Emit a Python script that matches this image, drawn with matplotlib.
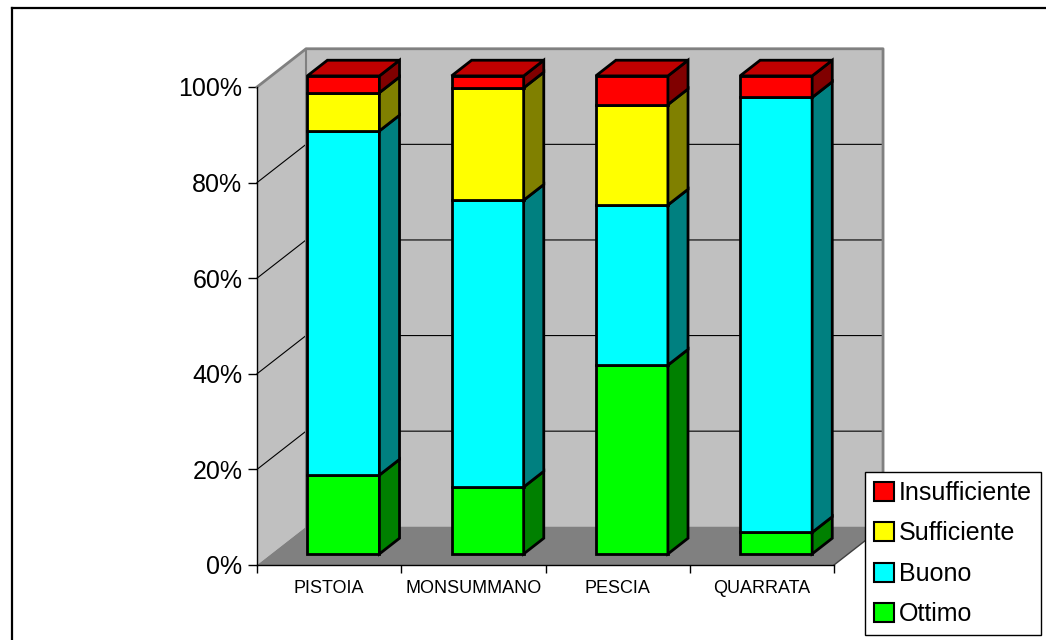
import numpy as np
import matplotlib
matplotlib.use("Agg")
from matplotlib import pyplot as plt
from matplotlib.patches import Polygon, Patch
from matplotlib.lines import Line2D

plt.rcParams['font.family'] = ['Liberation Sans', 'DejaVu Sans']

# dati (percentuali)
categorie = ['PISTOIA', 'MONSUMMANO', 'PESCIA', 'QUARRATA']
ottimo = [16.5, 14, 39.5, 4.5]
buono = [72, 60, 33.5, 91]
sufficiente = [8, 23.5, 21, 0]
insufficiente = [3.5, 2.5, 6, 4.5]

serie = ['Ottimo', 'Buono', 'Sufficiente', 'Insufficiente']
valori = [ottimo, buono, sufficiente, insufficiente]
col_fronte = ['#00ff00', '#00ffff', '#ffff00', '#ff0000']
col_lato = ['#008000', '#008080', '#808000', '#800000']
col_sopra = ['#00c000', '#00c0c0', '#c0c000', '#c00000']

W, H = 1046, 640
fig = plt.figure(figsize=(W / 100, H / 100), dpi=100)
ax = fig.add_axes([257 / W, (H - 565) / H, 577 / W, 478 / H])
ax.set_xlim(0, 4)
ax.set_ylim(0, 100)

# profondita' della scatola 3D (in unita' dati)
DX, DY = 0.34, 8.0
# posizione e spessore delle barre nella profondita'
FF, FB = 0.29, 0.70
larg = 0.5

kw = dict(clip_on=False)
# pareti e pavimento
ax.add_patch(Polygon([(DX, DY), (4 + DX, DY), (4 + DX, 100 + DY), (DX, 100 + DY)],
                     closed=True, fc='#c0c0c0', ec='none', zorder=1, **kw))
ax.add_patch(Polygon([(0, 0), (DX, DY), (DX, 100 + DY), (0, 100)],
                     closed=True, fc='#c0c0c0', ec='none', zorder=1, **kw))
ax.add_patch(Polygon([(0, 0), (4, 0), (4 + DX, DY), (DX, DY)],
                     closed=True, fc='#808080', ec='none', zorder=1, **kw))
# griglia
for v in [20, 40, 60, 80]:
    ax.plot([0, DX, 4 + DX], [v, v + DY, v + DY], color='black', lw=0.8, zorder=2, **kw)
# bordi grigi delle pareti
ax.plot([0, DX, 4 + DX, 4 + DX], [100, 100 + DY, 100 + DY, DY], color='#808080', lw=2, zorder=2, **kw)
ax.plot([DX, DX], [DY, 100 + DY], color='#808080', lw=1.5, zorder=2, **kw)
ax.plot([4, 4 + DX], [0, DY], color='#404040', lw=1, zorder=2, **kw)

# barre 3D impilate
tot = np.sum(valori, axis=0)
for i in range(len(categorie)):
    x0 = i + 0.5 - larg / 2 + DX * FF
    x1 = x0 + larg
    bx, by = DX * (FB - FF), DY * (FB - FF)
    base = DY * FF
    y = 0.0
    top_idx = max(k for k in range(len(serie)) if valori[k][i] > 0)
    for k in range(len(serie)):
        h = valori[k][i] / tot[i] * 100
        if h <= 0:
            continue
        y0, y1 = base + y, base + y + h
        ax.add_patch(Polygon([(x0, y0), (x1, y0), (x1, y1), (x0, y1)], closed=True,
                             fc=col_fronte[k], ec='black', lw=2, zorder=3, **kw))
        ax.add_patch(Polygon([(x1, y0), (x1 + bx, y0 + by), (x1 + bx, y1 + by), (x1, y1)], closed=True,
                             fc=col_lato[k], ec='black', lw=2, zorder=3, **kw))
        if k == top_idx:
            ax.add_patch(Polygon([(x0, y1), (x1, y1), (x1 + bx, y1 + by), (x0 + bx, y1 + by)], closed=True,
                                 fc=col_sopra[k], ec='black', lw=2, zorder=3, **kw))
        y += h

# assi
for s in ['top', 'right']:
    ax.spines[s].set_visible(False)
ax.spines['left'].set_linewidth(1)
ax.spines['bottom'].set_linewidth(1)
ax.set_yticks([0, 20, 40, 60, 80, 100])
ax.set_yticklabels(['0%', '20%', '40%', '60%', '80%', '100%'])
ax.tick_params(axis='y', direction='out', length=6.5, width=1, pad=4, labelsize=18)
ax.set_xticks([0, 1, 2, 3, 4])
ax.set_xticklabels([])
ax.set_xticks([0.5, 1.5, 2.5, 3.5], minor=True)
ax.set_xticklabels(categorie, minor=True)
ax.tick_params(axis='x', which='major', direction='out', length=6, width=1)
ax.tick_params(axis='x', which='minor', length=0, pad=11, labelsize=13)
ax.set_facecolor('none')

# legenda
ordine = list(range(len(serie) - 1, -1, -1))
maniglie = [Patch(fc=col_fronte[k], ec='black', lw=1.5) for k in ordine]
etichette = [serie[k] for k in ordine]
leg = fig.legend(maniglie, etichette, loc='upper left', bbox_to_anchor=(865 / W, 1 - 472 / H),
                 fontsize=18, frameon=True, fancybox=False, edgecolor='black', framealpha=1,
                 handlelength=0.8, handleheight=0.8, handletextpad=0.2, labelspacing=0.66,
                 borderpad=0.35, borderaxespad=0)
leg.get_frame().set_linewidth(1)

# cornice esterna (solo sinistra e sopra visibili)
fig.add_artist(Line2D([12 / W, 12 / W], [-0.1, 1 - 8 / H], color='black', lw=1.6))
fig.add_artist(Line2D([12 / W, 1.1], [1 - 8 / H, 1 - 8 / H], color='black', lw=1.6))

fig.savefig('out.png', dpi=100)
